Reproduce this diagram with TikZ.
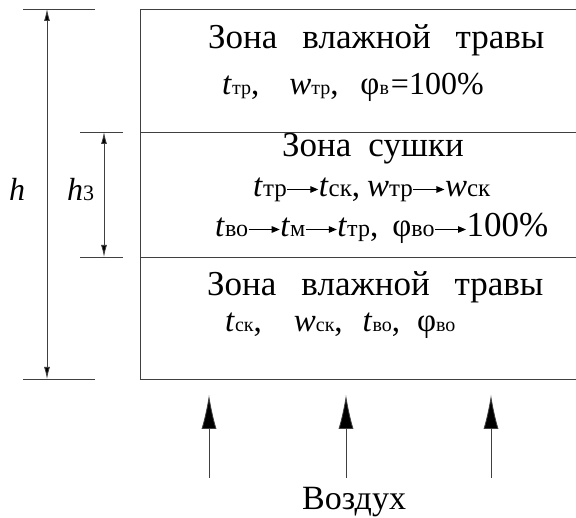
\documentclass[tikz,border=0pt]{standalone}
\usepackage{fontspec}
\setmainfont{Liberation Serif}
\usetikzlibrary{arrows.meta}
\def\sbsize{20}
\newcommand\sbs[1]{{\fontsize{\sbsize}{\sbsize}\selectfont #1}}
\newcommand\vt{\textit{t}}
\newcommand\vw{\textit{w}}
\newcommand\arr{\tikz[baseline=0pt,x=1pt,y=1pt]\draw[line width=1.1pt,black,-{Triangle[length=8pt,width=6.5pt]}] (0,7.5) -- (31,7.5);}
\tikzset{
  ln/.style={draw=black!75, line width=0.8pt},
  dim/.style={ln, {Latex[length=12pt,width=6pt,fill=black]}-{Latex[length=12pt,width=6pt,fill=black]}},
  air/.style={ln, -{Latex[length=34pt,width=15pt,fill=black]}},
  txt/.style={anchor=base west, inner sep=0pt, font=\fontsize{35}{35}\selectfont},
  txs/.style={anchor=base west, inner sep=0pt, font=\fontsize{33}{33}\selectfont}
}
\begin{document}
\begin{tikzpicture}[x=1pt,y=-1pt]
\useasboundingbox (0,0) rectangle (576,518);
% zone frame
\coordinate (tl) at (140,9);
\coordinate (tr) at (576,9);
\coordinate (m1l) at (140,132);
\coordinate (m1r) at (576,132);
\coordinate (m2l) at (140,257);
\coordinate (m2r) at (576,257);
\coordinate (bl) at (140,379);
\coordinate (br) at (576,379);
\draw[ln] (tr) -- (tl) -- (bl) -- (br);
\draw[ln] (m1l) -- (m1r);
\draw[ln] (m2l) -- (m2r);
% dimension h
\coordinate (ha1) at (23,9);
\coordinate (ha2) at (95,9);
\coordinate (hb1) at (23,379);
\coordinate (hb2) at (95,379);
\coordinate (ht) at (47,9);
\coordinate (hb) at (47,379);
\draw[ln] (ha1) -- (ha2);
\draw[ln] (hb1) -- (hb2);
\draw[dim] (ht) -- (hb);
\node[anchor=base west, inner sep=0pt, font=\fontsize{32}{32}\selectfont] (hlab) at (9,201) {\textit{h}};
% dimension h3
\coordinate (ka1) at (80,132);
\coordinate (ka2) at (123,132);
\coordinate (kb1) at (80,257);
\coordinate (kb2) at (123,257);
\coordinate (kt) at (104,132);
\coordinate (kb) at (104,257);
\draw[ln] (ka1) -- (ka2);
\draw[ln] (kb1) -- (kb2);
\draw[dim] (kt) -- (kb);
\node[anchor=base west, inner sep=0pt, font=\fontsize{32}{32}\selectfont] (h3lab) at (67,201) {\textit{h}{\fontsize{22}{22}\selectfont 3}};
% texts
\node[txt] (z1) at (208,49) {Зона\hspace{25pt}влажной\hspace{25pt}травы};
\node[txs] (z1p) at (222,95) {\vt\sbs{тр},\hspace{30pt}\vw\sbs{тр},\hspace{22pt}φ\sbs{в}\kern2pt{\fontsize{32}{32}\selectfont=100\%}};
\node[txt] (z2) at (282,157) {Зона\hspace{17pt}сушки};
\node[txs] (z2a) at (253,197) {\def\sbsize{25}\vt\sbs{тр}\arr\vt\sbs{ск},\hspace{7pt}\vw\sbs{тр}\arr\vw\sbs{ск}};
\node[txs] (z2b) at (215,237) {\def\sbsize{24}\vt\sbs{во}\arr\vt\sbs{м}\arr\vt\sbs{тр},\hspace{14pt}φ\sbs{во}\arr{\fontsize{35}{35}\selectfont 100\%}};
\node[txt] (z3) at (207,296) {Зона\hspace{25pt}влажной\hspace{25pt}травы};
\node[txs] (z3p) at (225,332) {\vt\sbs{ск},\hspace{32pt}\vw\sbs{ск},\hspace{20pt}\vt\sbs{во},\hspace{17pt}φ\sbs{во}};
% air
\coordinate (a1s) at (209,478);
\coordinate (a1e) at (209,395);
\coordinate (a2s) at (346,478);
\coordinate (a2e) at (346,395);
\coordinate (a3s) at (491,478);
\coordinate (a3e) at (491,395);
\draw[air] (a1s) -- (a1e);
\draw[air] (a2s) -- (a2e);
\draw[air] (a3s) -- (a3e);
\node[anchor=base west, inner sep=0pt, font=\fontsize{34}{34}\selectfont] (air) at (302,510) {Воздух};
\end{tikzpicture}
\end{document}
